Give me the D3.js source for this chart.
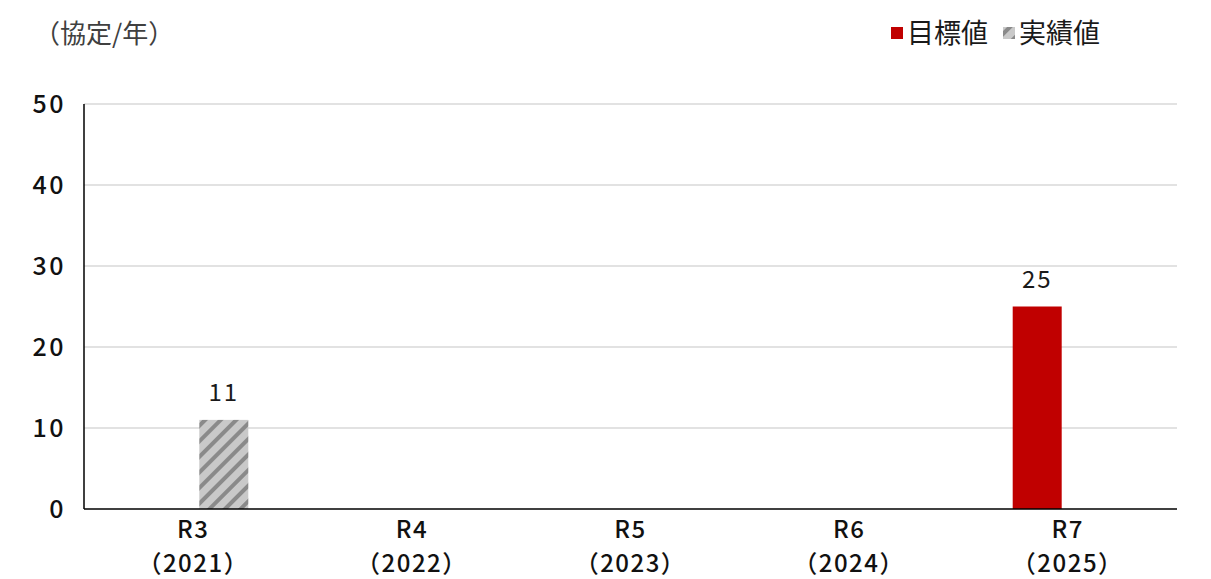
<!DOCTYPE html>
<html><head><meta charset="utf-8">
<script src="https://cdn.jsdelivr.net/npm/d3@7/dist/d3.min.js"></script>
<style>body{margin:0;background:#fff;} svg{display:block;font-family:"Noto Sans CJK JP","Noto Sans",sans-serif;}</style>
</head><body>
<svg id="c" width="1211" height="579"></svg>
<script>
const categories = ["R3", "R4", "R5", "R6", "R7"];
const years = ["（2021）", "（2022）", "（2023）", "（2024）", "（2025）"];
const seriesNames = ["目標値", "実績値"];
const targetValues = [null, null, null, null, 25];
const actualValues = [11, null, null, null, null];
const yTicks = [0, 10, 20, 30, 40, 50];
const unitLabel = "（協定/年）";

const svg = d3.select("#c");
const defs = svg.append("defs");
const pat = defs.append("pattern").attr("id","hatch").attr("patternUnits","userSpaceOnUse")
  .attr("width",11).attr("height",11).attr("patternTransform","rotate(45)");
pat.append("rect").attr("width",11).attr("height",11).attr("fill","#c9c9c9");
pat.append("rect").attr("x",0).attr("width",4).attr("height",11).attr("fill","#8a8a8a");

const L=84, R=1177, T=104, B=509;
const x = d3.scaleBand().domain(categories).range([L,R]);
const y = d3.scaleLinear().domain([0,50]).range([B,T]);
const barW = 49, gap = 12;

// grid
svg.append("g").selectAll("line").data(yTicks.filter(d=>d>0)).join("line")
  .attr("x1",L).attr("x2",R).attr("y1",d=>y(d)).attr("y2",d=>y(d))
  .attr("stroke","#d9d9d9").attr("stroke-width",1.5);

// y tick labels
svg.append("g").selectAll("text").data(yTicks).join("text")
  .attr("x",66).attr("y",d=>y(d)).attr("dy","0.36em").attr("text-anchor","end")
  .attr("font-size",25).attr("font-weight",500).attr("letter-spacing",2.5).attr("fill","#111").text(d=>d);

function drawSeries(vals, offset, fill){
  const data = categories.map((c,i)=>({c, v:vals[i]})).filter(d=>d.v!=null);
  svg.append("g").selectAll("rect").data(data).join("rect")
    .attr("x",d=>x(d.c)+x.bandwidth()/2+offset).attr("width",barW)
    .attr("y",d=>y(d.v)).attr("height",d=>B-y(d.v)).attr("fill",fill);
  svg.append("g").selectAll("text").data(data).join("text")
    .attr("x",d=>x(d.c)+x.bandwidth()/2+offset+barW/2).attr("y",d=>y(d.v)-19)
    .attr("text-anchor","middle").attr("font-size",24).attr("letter-spacing",2).attr("fill","#1a1a1a").text(d=>d.v);
}
drawSeries(targetValues, -gap/2-barW, "#c00000");
drawSeries(actualValues, gap/2, "url(#hatch)");

// axes lines
svg.append("line").attr("x1",L).attr("x2",L).attr("y1",T).attr("y2",B).attr("stroke","#000").attr("stroke-width",1.5);
svg.append("line").attr("x1",L).attr("x2",R).attr("y1",B).attr("y2",B).attr("stroke","#000").attr("stroke-width",1.5);

// x labels
const xl = svg.append("g").selectAll("g").data(categories).join("g")
  .attr("transform",d=>`translate(${x(d)+x.bandwidth()/2},0)`);
xl.append("text").attr("y",538).attr("text-anchor","middle").attr("font-size",24).attr("font-weight",500).attr("letter-spacing",1.5).attr("fill","#111").text(d=>d);
xl.append("text").attr("y",572).attr("text-anchor","middle").attr("font-size",24).attr("font-weight",500).attr("letter-spacing",1.5).attr("fill","#111").text((d,i)=>years[i]);

// unit label
svg.append("text").attr("x",34).attr("y",43).attr("font-size",26).attr("fill","#404040").text(unitLabel);

// legend
const leg = [{n:seriesNames[0], f:"#c00000", x:891},{n:seriesNames[1], f:"url(#hatch)", x:1003}];
const lg = svg.append("g").selectAll("g").data(leg).join("g").attr("transform",d=>`translate(${d.x},0)`);
lg.append("rect").attr("x",0).attr("y",27).attr("width",12).attr("height",12).attr("fill",d=>d.f);
lg.append("text").attr("x",16).attr("y",43).attr("font-size",27).attr("fill","#1a1a1a").text(d=>d.n);
</script>
</body></html>
